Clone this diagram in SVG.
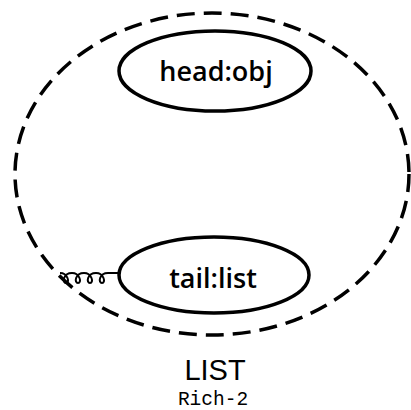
<svg xmlns="http://www.w3.org/2000/svg" width="411" height="410" viewBox="0 0 411 410">
  <style>
    .boundary { fill: none; stroke: #000; stroke-width: 3.5; stroke-dasharray: 18 9; }
    .node { fill: #fff; stroke: #000; stroke-width: 3.5; }
    .label { font-family: "Open Sans", "Noto Sans", sans-serif; font-size: 27px; font-weight: 600; fill: #000; text-anchor: middle; }
    .coil { fill: none; stroke: #000; stroke-width: 2; }
  </style>
  <rect width="411" height="410" fill="#fff"/>

  <!-- LIST boundary -->
  <ellipse class="boundary" cx="212" cy="174" rx="197" ry="161"/>

  <g id="connectors">
    <!-- coiled link from the boundary to tail -->
    <path class="coil" d="M60,273
      C68,273 70,283 66,283 C62,283 63,273 72,273
      C80,273 82,283 78,283 C74,283 75,273 84,273
      C92,273 94,283 90,283 C86,283 87,273 96,273
      C104,273 106,283 102,283 C98,283 99,273 108,273
      L119,273"/>
  </g>

  <g id="head">
    <ellipse class="node" cx="215" cy="71" rx="96" ry="40"/>
    <text class="label" x="216" y="81">head:obj</text>
  </g>

  <g id="tail">
    <ellipse class="node" cx="214" cy="275" rx="95" ry="38"/>
    <text class="label" x="213" y="288">tail:list</text>
  </g>

  <g id="title">
    <text x="215" y="380" font-family="'Liberation Sans', Arial, sans-serif" font-size="29" text-anchor="middle">LIST</text>
    <text x="213" y="405" font-family="'Liberation Mono', 'Courier New', monospace" font-size="19.5" text-anchor="middle">Rich-2</text>
  </g>
</svg>
